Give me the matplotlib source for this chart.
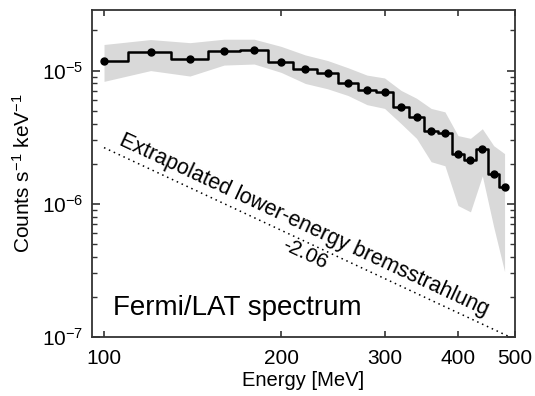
import numpy as np
import matplotlib
matplotlib.use('Agg')
import matplotlib.pyplot as plt
from matplotlib.ticker import FixedLocator, FixedFormatter, LogLocator, NullLocator, NullFormatter

plt.rcParams['font.family'] = ['Liberation Sans', 'DejaVu Sans']
plt.rcParams['mathtext.fontset'] = 'custom'
plt.rcParams['mathtext.rm'] = 'Liberation Sans'
plt.rcParams['mathtext.it'] = 'Liberation Sans:italic'
plt.rcParams['mathtext.default'] = 'regular'

# ---- data ----
energy = [100, 120, 140, 160, 180, 200, 220, 240, 260, 280,
          300, 320, 340, 360, 380, 400, 420, 440, 460, 480]
flux = [1.18e-5, 1.37e-5, 1.23e-5, 1.41e-5, 1.42e-5, 1.17e-5, 1.03e-5, 9.6e-6, 8.1e-6, 7.1e-6,
        6.95e-6, 5.3e-6, 4.5e-6, 3.54e-6, 3.42e-6, 2.35e-6, 2.12e-6, 2.56e-6, 1.67e-6, 1.34e-6]
band_upper = [1.57e-5, 1.71e-5, 1.62e-5, 1.72e-5, 1.72e-5, 1.52e-5, 1.31e-5, 1.19e-5, 1.05e-5, 9.25e-6,
              8.8e-6, 7.1e-6, 6.2e-6, 5.2e-6, 4.9e-6, 3.25e-6, 3.1e-6, 3.66e-6, 2.73e-6, 2.38e-6]
band_lower = [8.3e-6, 1.0e-5, 9.1e-6, 1.1e-5, 1.12e-5, 9.7e-6, 8.0e-6, 7.3e-6, 6.5e-6, 5.55e-6,
              5.2e-6, 4.0e-6, 3.1e-6, 2.07e-6, 1.93e-6, 9.7e-7, 8.7e-7, 1.62e-6, 6.7e-7, 3.1e-7]
ext_energy = [100, 500]
ext_flux = [2.64e-6, 9.6e-8]
ext_label = 'Extrapolated lower-energy bremsstrahlung'
ext_index_label = '-2.06'
title_label = 'Fermi/LAT spectrum'
xtick_values = [100, 200, 300, 400, 500]
xtick_labels = ['100', '200', '300', '400', '500']

fig = plt.figure(figsize=(5.35, 3.96), dpi=100)
ax = fig.add_axes([92/535, 1-337/396, (515-92)/535, (337-10)/396])

ax.set_xscale('log')
ax.set_yscale('log')
ax.set_xlim(95.4, 500)
ax.set_ylim(1e-7, 2.85e-5)

ax.fill_between(energy, band_lower, band_upper, color='#d9d9d9', lw=0, zorder=1)
ax.plot(energy, flux, drawstyle='steps-mid', color='black', lw=1.8, zorder=3)
ax.plot(energy, flux, 'o', color='black', ms=5, zorder=4)
ax.plot(ext_energy, ext_flux, color='black', lw=1.1, linestyle=(0, (1, 2.5)), zorder=2)

# angle of extrapolated line on screen
p0 = ax.transData.transform((ext_energy[0], ext_flux[0]))
p1 = ax.transData.transform((ext_energy[1], ext_flux[1]))
angle = np.degrees(np.arctan2(p1[1]-p0[1], p1[0]-p0[0]))

ax.text(219, 6.95e-7, ext_label, rotation=angle, rotation_mode='anchor',
        ha='center', va='center', fontsize=15.5)
ax.text(220, 4.2e-7, ext_index_label, rotation=angle, rotation_mode='anchor',
        ha='center', va='center', fontsize=15)
ax.text(103.6, 1.46e-7, title_label, ha='left', va='baseline', fontsize=20)

ax.xaxis.set_major_locator(FixedLocator(xtick_values))
ax.xaxis.set_major_formatter(FixedFormatter(xtick_labels))
ax.xaxis.set_minor_locator(NullLocator())
ax.xaxis.set_minor_formatter(NullFormatter())
ax.yaxis.set_major_locator(LogLocator(base=10))
ax.yaxis.set_minor_locator(LogLocator(base=10, subs=np.arange(2, 10)))
ax.yaxis.set_minor_formatter(NullFormatter())

ax.tick_params(which='both', direction='in', top=True, right=True, color='#333333')
ax.tick_params(axis='x', which='major', length=4, width=1.2, labelsize=15, pad=9)
ax.tick_params(axis='y', which='major', length=6, width=1.2, labelsize=15, pad=6)
ax.tick_params(axis='y', which='minor', length=3.5, width=1.0)

for s in ax.spines.values():
    s.set_color('#333333')
    s.set_linewidth(1.3)

ax.set_xlabel('Energy [MeV]', fontsize=14.5, labelpad=2)
ax.set_ylabel('Counts s$^{-1}$ keV$^{-1}$', fontsize=15, labelpad=6)

fig.savefig('out.png', dpi=100)
